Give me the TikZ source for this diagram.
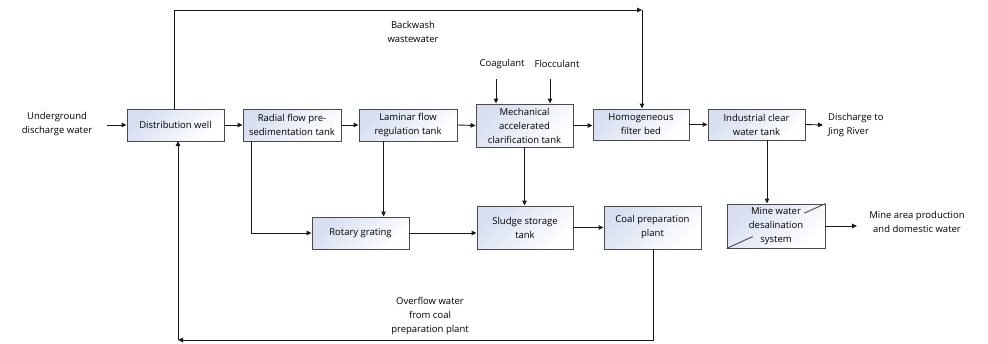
\documentclass[tikz,border=0pt]{standalone}
\usepackage{fontspec}
\setmainfont{Open Sans}
\usetikzlibrary{arrows.meta,calc}
\definecolor{boxedge}{HTML}{4A4A4A}
\definecolor{boxtint}{HTML}{D6DEF0}
\definecolor{linecol}{HTML}{1A1A1A}
\tikzset{
  unit/.style={draw=boxedge, line width=0.9pt, top color=boxtint, bottom color=white,
    shading angle=45, inner sep=0pt, align=center, font=\fontsize{9.5}{14}\selectfont},
  label/.style={inner sep=0pt, align=center, font=\fontsize{9.5}{14}\selectfont},
  flow/.style={draw=linecol, line width=0.9pt, -{Triangle[length=5pt,width=4.5pt]}},
  plain/.style={draw=linecol, line width=0.9pt}
}
\begin{document}
\begin{tikzpicture}[x=1pt,y=-1pt]
\useasboundingbox (0,0) rectangle (988,343);

% main treatment line
\node[unit, minimum width=97pt, minimum height=32pt] (dist) at (175.5,125) {Distribution well};
\node[unit, minimum width=98pt, minimum height=32pt] (radial) at (292,125) {Radial flow pre-\\sedimentation tank};
\node[unit, minimum width=98pt, minimum height=32pt] (laminar) at (408,125) {Laminar flow\\regulation tank};
\node[unit, minimum width=97pt, minimum height=43pt] (mech) at (524.5,125.5) {Mechanical\\accelerated\\clarification tank};
\node[unit, minimum width=96pt, minimum height=31pt] (homog) at (641,124.5) {Homogeneous\\filter bed};
\node[unit, minimum width=97pt, minimum height=31pt] (indus) at (756.5,124.5) {Industrial clear\\water tank};

% sludge line
\node[unit, minimum width=97pt, minimum height=32pt] (rotary) at (360.5,233) {Rotary grating};
\node[unit, minimum width=96pt, minimum height=43pt] (sludge) at (525,227.5) {Sludge storage\\tank};
\node[unit, minimum width=97pt, minimum height=43pt] (coal) at (652.5,227.5) {Coal preparation\\plant};

% desalination unit with its diagonal
\node[unit, minimum width=98pt, minimum height=44pt] (desal) at (776,226) {Mine water\\desalination\\system};
\draw[draw=boxedge, line width=0.9pt] (desal.south west) -- ($(desal.south west)!0.265!(desal.north east)$);
\draw[draw=boxedge, line width=0.9pt] ($(desal.south west)!0.786!(desal.north east)$) -- (desal.north east);

% free texts
\node[label] (under) at (57,124) {Underground\\discharge water};
\node[label, anchor=west, align=left] (jing) at (828,125) {Discharge to\\Jing River};
\node[label] (mine) at (917,222) {Mine area production\\and domestic water};
\node[label] (back) at (413,32) {Backwash\\wastewater};
\node[label] (coag) at (502,64) {Coagulant};
\node[label] (floc) at (557,64) {Flocculant};
\node[label] (over) at (430,316) {Overflow water\\from coal\\preparation plant};

% free ends and bends
\coordinate (inA) at (107,125);
\coordinate (outJ) at (823,125);
\coordinate (outM) at (857,226);
\coordinate (coagT) at (496,79);
\coordinate (flocT) at (550,79);
\coordinate (bwUp) at (174,109);
\coordinate (bwTop) at (642,10);
\coordinate (ovBot) at (178,340);
\coordinate (ovRet) at (178,141);
\coordinate (radOut) at ($(radial.south west)+(9,0)$);
\coordinate (lamOut) at ($(laminar.south west)+(25,0)$);
\coordinate (indOut) at (767,140);
\coordinate (coalOut) at (653,249);

% main flow
\draw[flow] (inA) -- (dist.west);
\draw[flow] (dist.east) -- (radial.west);
\draw[flow] (radial.east) -- (laminar.west);
\draw[flow] (laminar.east) -- (mech.west);
\draw[flow] (mech.east) -- (mech.east -| homog.west);
\draw[flow] (homog.east) -- (indus.west);
\draw[flow] (indus.east) -- (outJ);
\draw[flow] (desal.east) -- (outM);

% dosing
\draw[flow] (coagT) -- (coagT |- mech.north);
\draw[flow] (flocT) -- (flocT |- mech.north);

% backwash return
\draw[flow] (bwUp) |- (bwTop);
\draw[flow] (bwTop) -- (bwTop |- homog.north);

% sludge handling
\draw[flow] (radOut) |- (rotary.west);
\draw[flow] (lamOut) -- (lamOut |- rotary.north);
\draw[flow] (rotary.east) -- (rotary.east -| sludge.west);
\draw[flow] (mech.south) -- (mech.south |- sludge.north);
\draw[flow] (sludge.east) -- (sludge.east -| coal.west);
\draw[flow] (indOut) -- (indOut |- desal.north);

% overflow return
\draw[flow] (coalOut) |- (ovBot);
\draw[flow] (ovBot) -- (ovRet);
\end{tikzpicture}
\end{document}
